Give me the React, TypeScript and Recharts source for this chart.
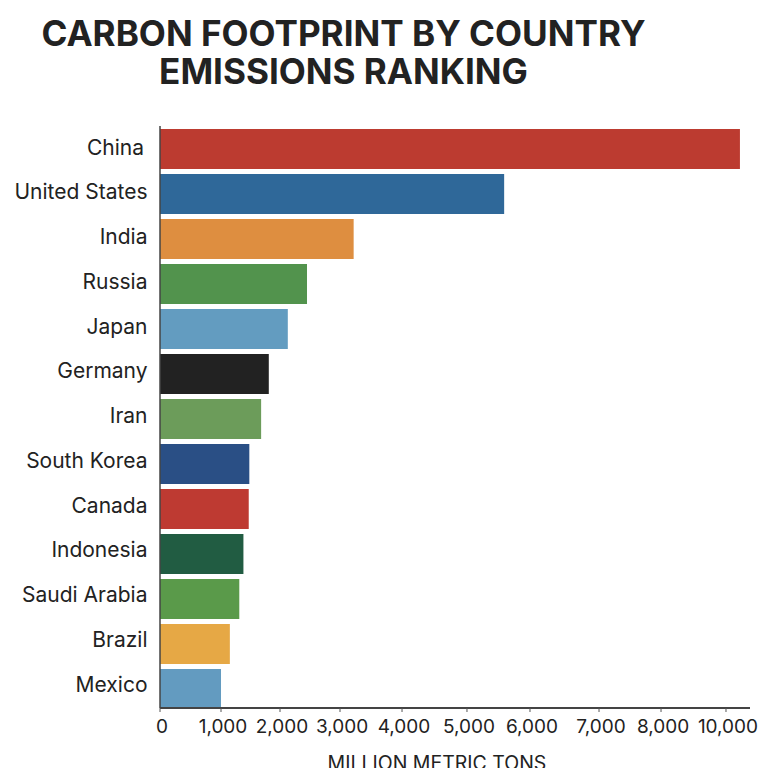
import { BarChart, Bar, Cell, XAxis, YAxis, Label } from "recharts";

const countries = [
  "China", "United States", "India", "Russia", "Japan", "Germany", "Iran",
  "South Korea", "Canada", "Indonesia", "Saudi Arabia", "Brazil", "Mexico",
];
const emissions = [10430, 5590, 3220, 2450, 2130, 1810, 1680, 1480, 1470, 1380, 1310, 1150, 1000];
const barColors = [
  "#bc3b30", "#2f6899", "#de8e40", "#52934d", "#639cc0", "#222222", "#6c9c5a",
  "#2a4f85", "#be3a32", "#215c42", "#5a9a4a", "#e6a845", "#639bc0",
];
const tickValues = [0, 1000, 2000, 3000, 4000, 5000, 6000, 7000, 8000, 10000];
// the printed axis is not evenly spaced, so each tick gets its own share of the axis length
const tickShares = [0, 0.1034, 0.2034, 0.3051, 0.4102, 0.5203, 0.6271, 0.7441, 0.8492, 0.9593];
const axisMax = 10740;

const data = countries.map((country, i) => ({ country, value: emissions[i] }));

const FONT = "Inter, sans-serif";

// piecewise linear scale, same interface recharts expects from a d3 scale
function tickScale(dom: number[] = [0, axisMax], rng: number[] = [0, 1]) {
  const stops = [...tickValues, axisMax];
  const shares = [...tickShares, 1];
  const scale: any = (v: number) => {
    let i = 0;
    while (i < stops.length - 2 && v > stops[i + 1]) i++;
    const t = (v - stops[i]) / (stops[i + 1] - stops[i]);
    const share = shares[i] + t * (shares[i + 1] - shares[i]);
    return rng[0] + share * (rng[1] - rng[0]);
  };
  scale.domain = (d?: number[]) => (d ? tickScale(d, rng) : dom);
  scale.range = (r?: number[]) => (r ? tickScale(dom, r) : rng);
  scale.copy = () => tickScale(dom, rng);
  scale.ticks = () => tickValues;
  return scale;
}

// labels sit a little tighter than the bars, China stops short of the others
function CountryTick({ x, y, index, payload }: any) {
  return (
    <text
      x={index === 0 ? x - 3 : x + 0.5}
      y={y - 1.5 - index * 0.25}
      textAnchor="end"
      dominantBaseline="central"
      fontSize={21}
      fontFamily={FONT}
      fill="#222"
    >
      {payload.value}
    </text>
  );
}

export default function App() {
  return (
    <div style={{ position: "absolute", left: 0, top: 0, width: 768, height: 768, overflow: "hidden", background: "#fff", fontFamily: FONT }}>
      <div style={{ position: "absolute", left: 0, width: 687, top: 14, textAlign: "center", fontSize: 35.1, lineHeight: "38px", fontWeight: 700, color: "#222" }}>
        CARBON FOOTPRINT BY COUNTRY
        <br />
        EMISSIONS RANKING
      </div>
      <BarChart
        width={768}
        height={768}
        layout="vertical"
        data={data}
        margin={{ top: 126, right: 18, bottom: 0, left: 0 }}
      >
        <XAxis
          type="number"
          domain={[0, axisMax]}
          scale={tickScale()}
          ticks={tickValues}
          interval={0}
          height={60}
          tickSize={4}
          tickMargin={8}
          tickFormatter={(v: number) => v.toLocaleString("en-US")}
          tick={{ fontSize: 19, fill: "#222", fontFamily: FONT, dx: 2 }}
          axisLine={{ stroke: "#444", strokeWidth: 2 }}
          tickLine={{ stroke: "#555" }}
        >
          <Label value="MILLION METRIC TONS" position="insideBottom" offset={0} dx={-18} dy={2} style={{ fontSize: 19.5, fill: "#222", fontFamily: FONT }} />
        </XAxis>
        <YAxis
          type="category"
          dataKey="country"
          width={160}
          interval={0}
          padding={{ top: 0, bottom: -3 }}
          tickSize={0}
          tickMargin={13}
          tick={<CountryTick />}
          axisLine={{ stroke: "#444", strokeWidth: 1.5 }}
        />
        <Bar dataKey="value" barSize={40} isAnimationActive={false}>
          {data.map((d, i) => (
            <Cell key={d.country} fill={barColors[i]} />
          ))}
        </Bar>
      </BarChart>
    </div>
  );
}
